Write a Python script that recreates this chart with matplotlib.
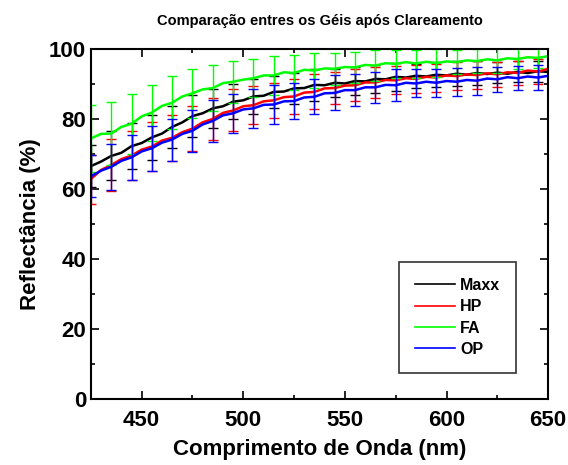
import numpy as np
import matplotlib
matplotlib.use("Agg")
import matplotlib.pyplot as plt
from matplotlib.ticker import MultipleLocator

plt.rcParams['font.family'] = ['Liberation Sans', 'DejaVu Sans']
plt.rcParams['font.weight'] = 'bold'

# wavelength grid (nm), every 5 nm
wl = np.arange(425, 651, 5)

maxx = [66.5, 67.8, 69.4, 70.3, 72.2, 73.1, 74.7, 75.8, 77.7, 79.0, 80.8, 81.6,
        83.0, 83.6, 84.9, 85.3, 86.4, 86.6, 87.7, 87.8, 88.7, 88.8, 89.7, 89.6,
        90.3, 90.1, 90.8, 90.7, 91.4, 91.3, 92.0, 91.8, 92.3, 92.1, 92.6, 92.4,
        92.9, 92.6, 93.1, 92.8, 93.2, 92.9, 93.4, 93.1, 93.6, 93.4]
hp = [62.8, 65.4, 66.8, 68.5, 69.5, 71.2, 72.1, 73.8, 74.6, 76.2, 77.2, 79.0,
      80.0, 81.7, 82.4, 83.6, 83.9, 85.0, 85.3, 86.2, 86.4, 87.5, 87.7, 88.7,
      88.8, 89.5, 89.6, 90.4, 90.4, 91.1, 91.0, 91.6, 91.4, 92.0, 91.8, 92.4,
      92.2, 92.7, 92.5, 93.0, 92.7, 93.3, 93.1, 93.8, 93.5, 94.3]
fa = [74.4, 75.7, 75.8, 77.7, 78.6, 80.7, 81.8, 83.7, 84.6, 86.4, 87.3, 88.4,
      88.8, 90.2, 90.6, 91.2, 91.6, 92.4, 92.4, 93.3, 93.1, 94.0, 93.8, 94.4,
      94.3, 94.8, 94.7, 95.4, 95.2, 95.9, 95.7, 96.2, 95.8, 96.3, 95.9, 96.4,
      96.2, 96.7, 96.5, 97.0, 96.7, 97.3, 97.1, 97.6, 97.4, 97.9]
op = [63.6, 65.2, 66.3, 68.0, 69.0, 70.7, 71.6, 73.2, 74.1, 75.7, 76.6, 78.4,
      79.4, 81.0, 81.6, 82.7, 83.0, 84.0, 84.1, 85.0, 85.1, 86.1, 86.3, 87.3,
      87.4, 88.2, 88.2, 89.0, 89.0, 89.7, 89.6, 90.3, 90.1, 90.6, 90.3, 90.8,
      90.6, 91.1, 90.9, 91.5, 91.3, 91.9, 91.6, 92.1, 91.8, 92.3]

# standard deviations at every 10 nm (425, 435, ..., 645)
maxx_err = [6.0, 7.0, 6.5, 6.5, 6.0, 6.0, 5.5, 5.0, 5.0, 4.5, 4.5, 4.5,
            4.0, 4.0, 4.0, 4.0, 3.5, 3.5, 3.5, 3.5, 3.0, 3.0, 3.0]
hp_err = [7.0, 7.5, 7.0, 7.0, 6.5, 6.5, 6.0, 6.0, 5.5, 5.0, 5.0, 5.0,
          4.5, 4.5, 4.5, 4.0, 4.0, 4.0, 4.0, 4.0, 3.5, 3.5, 3.5]
fa_err = [9.5, 9.0, 8.5, 8.0, 7.5, 7.0, 6.5, 6.0, 5.5, 5.5, 5.0, 5.0,
          4.5, 4.5, 4.5, 4.0, 4.0, 4.0, 3.5, 3.5, 3.5, 3.0, 3.0]
op_err = [6.0, 6.5, 6.5, 6.5, 6.0, 6.0, 6.0, 5.5, 5.5, 5.5, 5.0, 5.0,
          5.0, 4.5, 4.5, 4.5, 4.0, 4.0, 4.0, 4.0, 3.5, 3.5, 3.5]

series = [("Maxx", maxx, maxx_err, "black"),
          ("HP", hp, hp_err, "#ff0000"),
          ("FA", fa, fa_err, "#00ff00"),
          ("OP", op, op_err, "#0000ff")]

fig = plt.figure(figsize=(5.68, 4.65), dpi=100)
ax = fig.add_axes([0.160, 0.142, 0.805, 0.753])

for name, vals, err, col in series:
    vals = np.array(vals)
    ax.plot(wl, vals, color=col, lw=1.8, label=name)
    ax.errorbar(wl[::2], vals[::2], yerr=err, fmt='none', ecolor=col,
                elinewidth=1.0, capsize=3.5, capthick=1.0)

ax.set_xlim(425, 650)
ax.set_ylim(0, 100)
ax.xaxis.set_major_locator(MultipleLocator(50))
ax.xaxis.set_minor_locator(MultipleLocator(25))
ax.yaxis.set_major_locator(MultipleLocator(20))
ax.yaxis.set_minor_locator(MultipleLocator(10))
ax.tick_params(which='both', direction='in', top=True, right=True,
               labelsize=16, width=1.2)
ax.tick_params(which='major', length=6)
ax.tick_params(which='minor', length=3)
ax.tick_params(axis='x', pad=8)
for lab in ax.get_xticklabels() + ax.get_yticklabels():
    lab.set_fontweight('bold')
for sp in ax.spines.values():
    sp.set_linewidth(1.5)

ax.set_xlabel("Comprimento de Onda (nm)", fontsize=16, fontweight='bold', labelpad=6)
ax.set_ylabel("Reflectância (%)", fontsize=16, fontweight='bold', labelpad=6)
ax.set_title("Comparação entres os Géis após Clareamento", fontsize=10.5,
             fontweight='bold', pad=17)

leg = ax.legend(loc='lower right', bbox_to_anchor=(0.93, 0.074), fancybox=False,
                frameon=True, handlelength=2.5, handletextpad=0.3,
                borderpad=1.0, labelspacing=0.4, borderaxespad=0,
                prop={'size': 11.5, 'weight': 'bold'})
leg.get_frame().set_edgecolor('black')
leg.get_frame().set_linewidth(1.2)
for line in leg.get_lines():
    line.set_linewidth(1.2)

fig.savefig("out.png", dpi=100)
